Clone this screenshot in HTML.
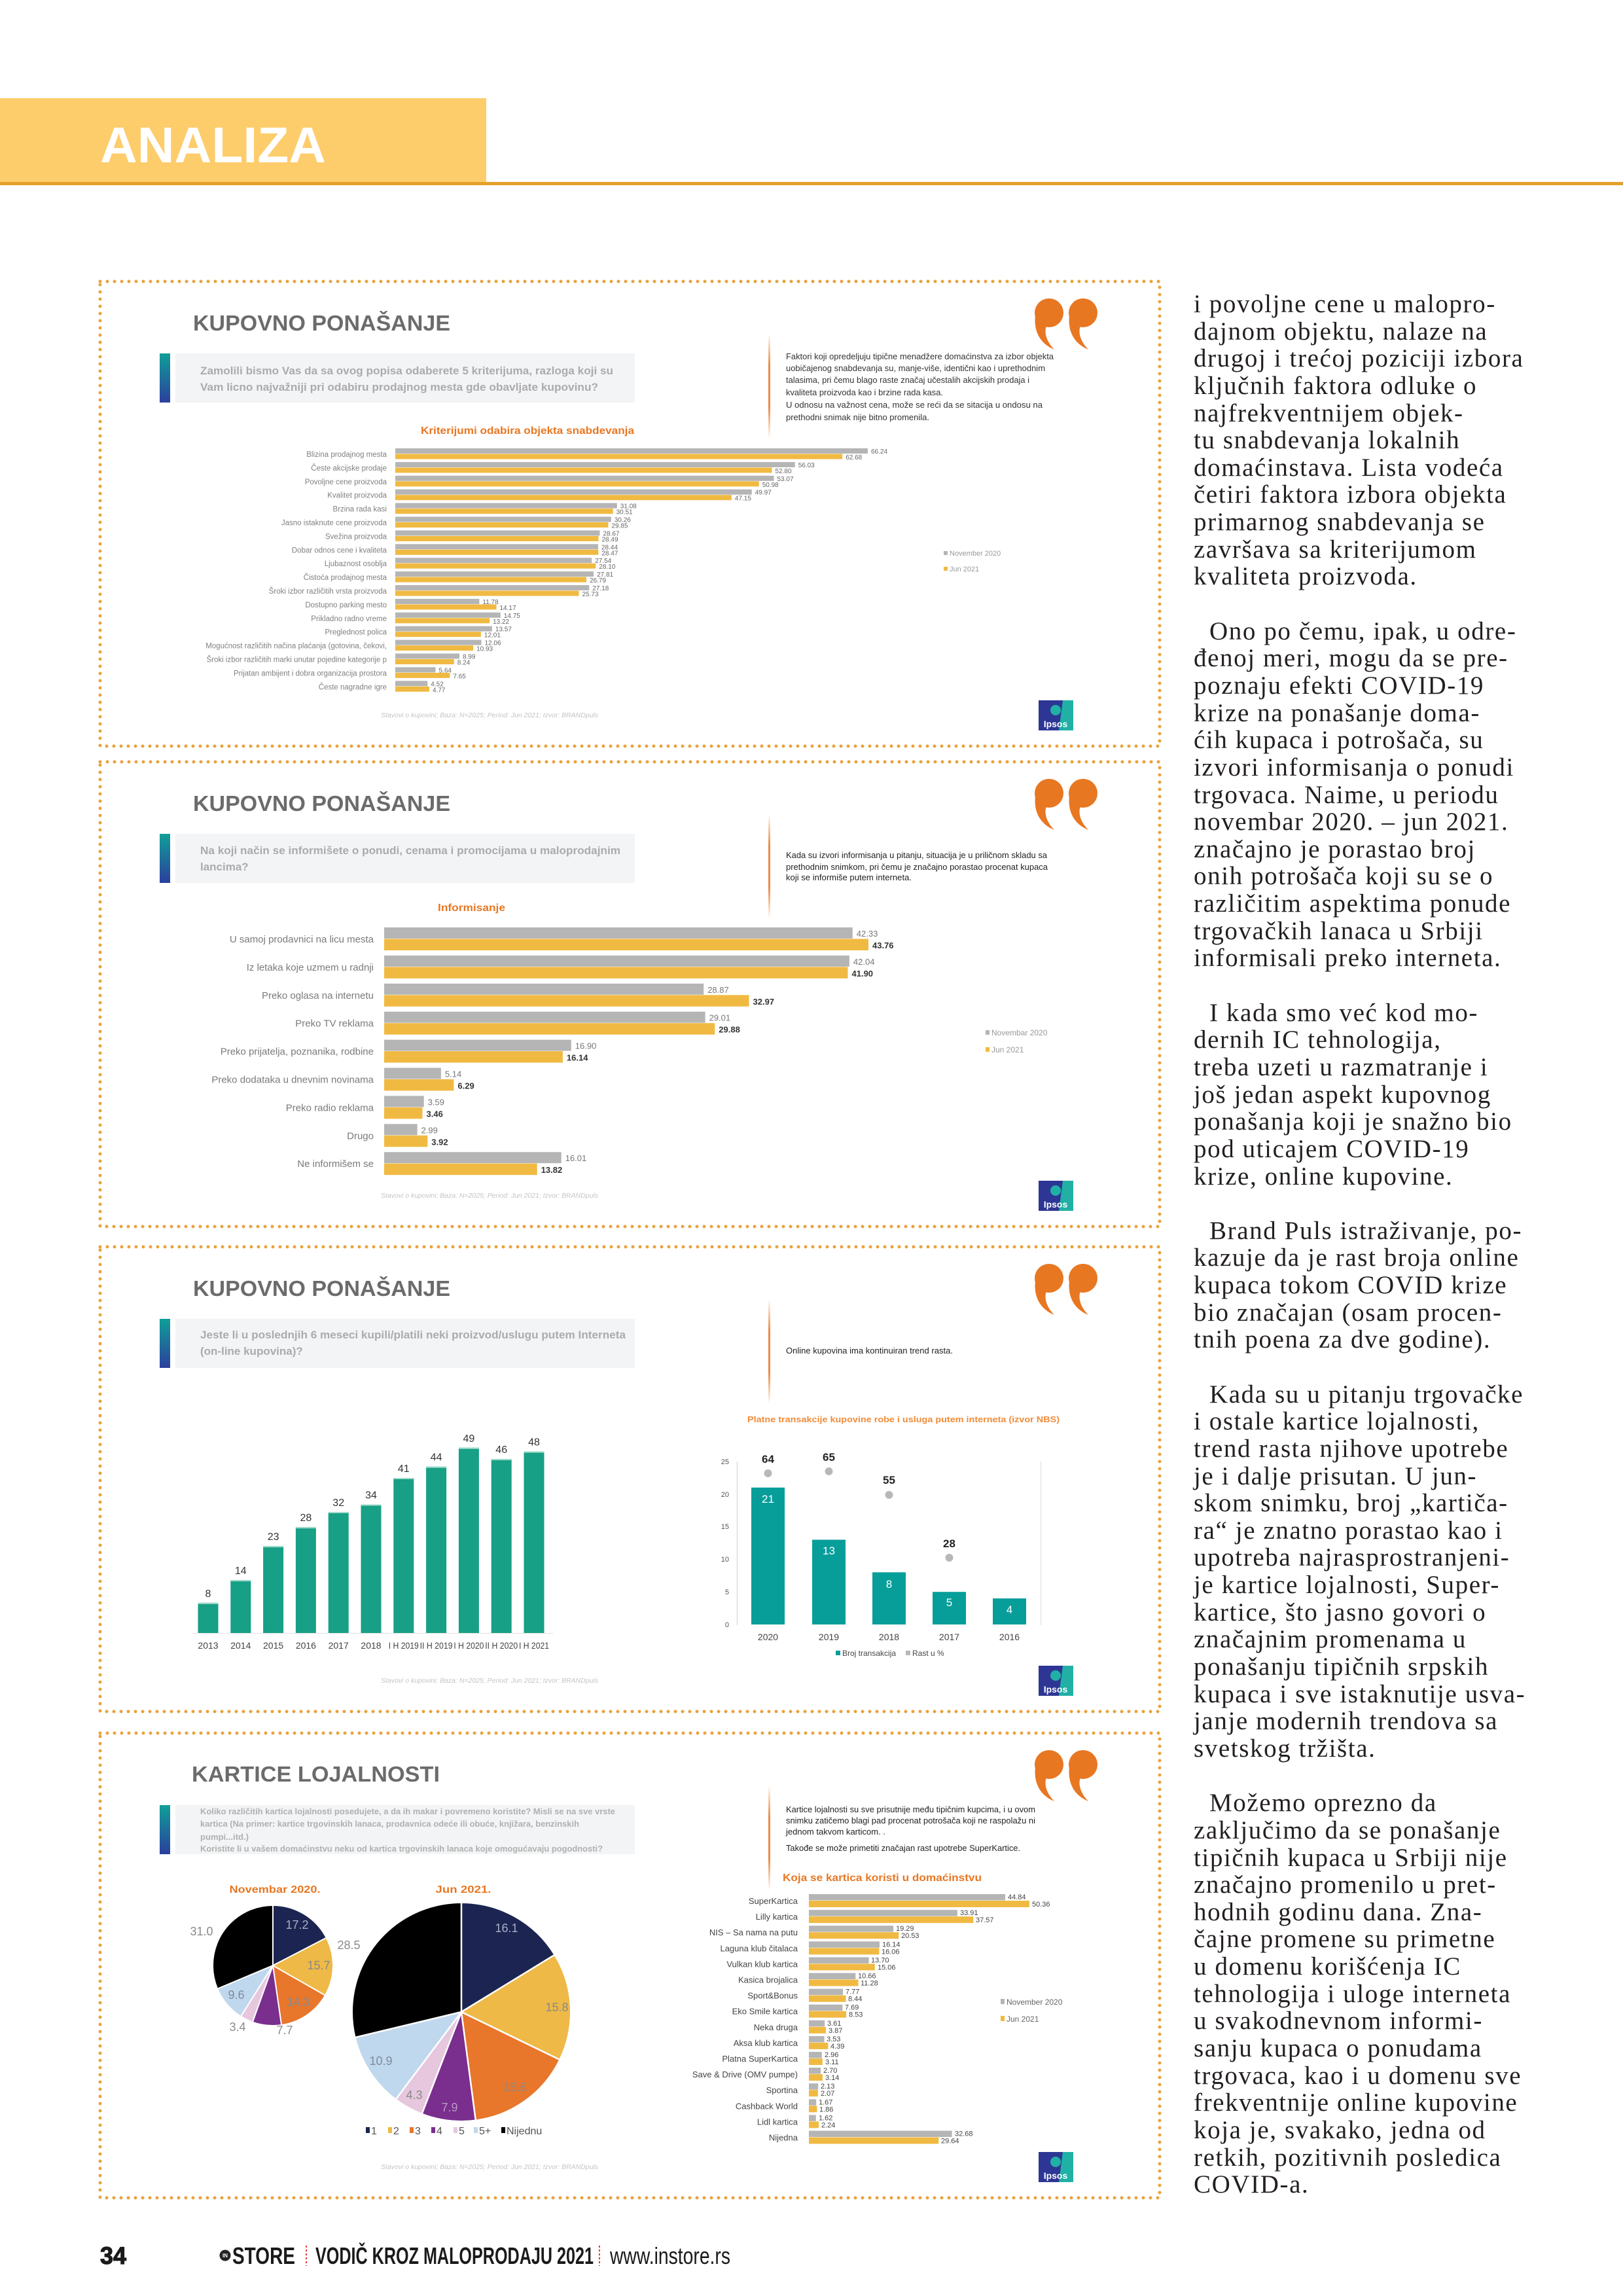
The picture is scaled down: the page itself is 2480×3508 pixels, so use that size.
<!DOCTYPE html>
<html><head><meta charset="utf-8">
<style>
html,body{margin:0;padding:0;background:#fff;}
body{width:2480px;height:3508px;overflow:hidden;position:relative;}
svg{position:absolute;left:0;top:0;}
svg text{font-family:"Liberation Sans",sans-serif;}
#col{position:absolute;left:1824px;top:444px;font-family:"Liberation Serif",serif;font-size:39px;line-height:41.65px;letter-spacing:1.6px;color:#231f20;white-space:nowrap;}
#col div{height:41.65px;}
#col .i{padding-left:24px;}
</style></head><body>
<svg width="2480" height="3508" viewBox="0 0 2480 3508" xmlns="http://www.w3.org/2000/svg">
<defs>
<linearGradient id="qbar" x1="0" y1="0" x2="0" y2="1"><stop offset="0" stop-color="#0f9f98"/><stop offset="1" stop-color="#2b3f9e"/></linearGradient>
<linearGradient id="oline" x1="0" y1="0" x2="0" y2="1"><stop offset="0" stop-color="#E87722" stop-opacity="0"/><stop offset="0.3" stop-color="#E87722" stop-opacity="0.85"/><stop offset="0.7" stop-color="#E87722" stop-opacity="0.85"/><stop offset="1" stop-color="#E87722" stop-opacity="0"/></linearGradient>
<g id="common">
<rect x="153" y="0" width="1619" height="710" fill="none" stroke="#E9A23B" stroke-width="5" stroke-dasharray="0 11" stroke-linecap="round"/>
<rect x="268" y="110" width="702" height="75" fill="#f3f4f6"/>
<rect x="244" y="110" width="16" height="75" fill="url(#qbar)"/>
<rect x="1174" y="80" width="3" height="160" fill="url(#oline)"/>
<circle cx="1603" cy="48" r="22" fill="#E87722"/>
<circle cx="1655" cy="48" r="22" fill="#E87722"/>
<path d="M1582,52 C1579,78 1591,96 1611,104 C1599,92 1595,78 1599,68 Z" fill="#E87722"/>
<path d="M1634,52 C1631,78 1643,96 1663,104 C1651,92 1647,78 1651,68 Z" fill="#E87722"/>
<rect x="1587" y="640" width="53" height="46" fill="#2d3694"/>
<path d="M1624,640 L1640,640 L1640,686 L1618,686 Z" fill="#21b0a5"/>
<circle cx="1613" cy="655" r="8" fill="#21b0a5"/>
<text x="1613" y="681" font-size="14" fill="#fff" text-anchor="middle" font-weight="bold">Ipsos</text>
<text x="748" y="666" font-size="10" font-style="italic" fill="#c4c4c4" text-anchor="middle" textLength="332" lengthAdjust="spacingAndGlyphs">Stavovi o kupovini; Baza: N=2025; Period: Jun 2021; Izvor: BRANDpuls</text>
</g>
</defs>

<!-- HEADER -->
<rect x="0" y="150" width="743" height="129" fill="#FDCC6B"/>
<rect x="0" y="278" width="2480" height="5" fill="#E5A02B"/>
<text x="153" y="248" font-size="77" font-weight="bold" fill="#fff" textLength="345" lengthAdjust="spacingAndGlyphs">ANALIZA</text>

<!-- PANEL 1 -->
<g transform="translate(0,430)">
<use href="#common"/>
<text x="295" y="75" font-size="33" font-weight="bold" fill="#6b6b6b" textLength="393" lengthAdjust="spacingAndGlyphs">KUPOVNO PONAŠANJE</text>
<g font-size="17" font-weight="bold" fill="#ababab">
<text x="306" y="142" textLength="631" lengthAdjust="spacingAndGlyphs">Zamolili bismo Vas da sa ovog popisa odaberete 5 kriterijuma, razloga koji su</text>
<text x="306" y="167" textLength="608" lengthAdjust="spacingAndGlyphs">Vam licno najvažniji pri odabiru prodajnog mesta gde obavljate kupovinu?</text>
</g>
<g font-size="13" fill="#333">
<text x="1201" y="119" textLength="409" lengthAdjust="spacingAndGlyphs">Faktori koji opredeljuju tipične menadžere domaćinstva za izbor objekta</text>
<text x="1201" y="137" textLength="396" lengthAdjust="spacingAndGlyphs">uobičajenog snabdevanja su, manje-više, identični kao i uprethodnim</text>
<text x="1201" y="155" textLength="372" lengthAdjust="spacingAndGlyphs">talasima, pri čemu blago raste značaj učestalih akcijskih prodaja i</text>
<text x="1201" y="174" textLength="240" lengthAdjust="spacingAndGlyphs">kvaliteta proizvoda kao i brzine rada kasa.</text>
<text x="1201" y="193" textLength="392" lengthAdjust="spacingAndGlyphs">U odnosu na važnost cena, može se reći da se sitacija u ondosu na</text>
<text x="1201" y="212" textLength="219" lengthAdjust="spacingAndGlyphs">prethodni snimak nije bitno promenila.</text>
</g>
<text x="643" y="233" font-size="16" font-weight="bold" fill="#E87722" textLength="326" lengthAdjust="spacingAndGlyphs">Kriterijumi odabira objekta snabdevanja</text>
<g fill="#b5b5b5">
<rect x="604" y="255" width="722.0" height="8"/>
<rect x="604" y="275.9" width="610.7" height="8"/>
<rect x="604" y="296.8" width="578.5" height="8"/>
<rect x="604" y="317.7" width="544.7" height="8"/>
<rect x="604" y="338.6" width="338.8" height="8"/>
<rect x="604" y="359.5" width="329.8" height="8"/>
<rect x="604" y="380.4" width="312.5" height="8"/>
<rect x="604" y="401.3" width="310.0" height="8"/>
<rect x="604" y="422.2" width="300.2" height="8"/>
<rect x="604" y="443.1" width="303.1" height="8"/>
<rect x="604" y="464" width="296.3" height="8"/>
<rect x="604" y="484.9" width="128.4" height="8"/>
<rect x="604" y="505.8" width="160.8" height="8"/>
<rect x="604" y="526.7" width="147.9" height="8"/>
<rect x="604" y="547.6" width="131.5" height="8"/>
<rect x="604" y="568.5" width="98.0" height="8"/>
<rect x="604" y="589.4" width="61.5" height="8"/>
<rect x="604" y="610.3" width="49.3" height="8"/>
</g>
<g fill="#F0BA42">
<rect x="604" y="263.5" width="683.2" height="8"/>
<rect x="604" y="284.4" width="575.5" height="8"/>
<rect x="604" y="305.3" width="555.7" height="8"/>
<rect x="604" y="326.2" width="513.9" height="8"/>
<rect x="604" y="347.1" width="332.6" height="8"/>
<rect x="604" y="368" width="325.4" height="8"/>
<rect x="604" y="388.9" width="310.5" height="8"/>
<rect x="604" y="409.8" width="310.3" height="8"/>
<rect x="604" y="430.7" width="306.3" height="8"/>
<rect x="604" y="451.6" width="292.0" height="8"/>
<rect x="604" y="472.5" width="280.5" height="8"/>
<rect x="604" y="493.4" width="154.5" height="8"/>
<rect x="604" y="514.3" width="144.1" height="8"/>
<rect x="604" y="535.2" width="130.9" height="8"/>
<rect x="604" y="556.1" width="119.1" height="8"/>
<rect x="604" y="577" width="89.8" height="8"/>
<rect x="604" y="597.9" width="83.4" height="8"/>
<rect x="604" y="618.8" width="52.0" height="8"/>
</g>
<g font-size="11.5" fill="#808080" text-anchor="end">
<text x="591" y="268">Blizina prodajnog mesta</text>
<text x="591" y="288.9">Česte akcijske prodaje</text>
<text x="591" y="309.8">Povoljne cene proizvoda</text>
<text x="591" y="330.7">Kvalitet proizvoda</text>
<text x="591" y="351.6">Brzina rada kasi</text>
<text x="591" y="372.5">Jasno istaknute cene proizvoda</text>
<text x="591" y="393.4">Svežina proizvoda</text>
<text x="591" y="414.3">Dobar odnos cene i kvaliteta</text>
<text x="591" y="435.2">Ljubaznost osoblja</text>
<text x="591" y="456.1">Čistoća prodajnog mesta</text>
<text x="591" y="477">Šroki izbor različitih vrsta proizvoda</text>
<text x="591" y="497.9">Dostupno parking mesto</text>
<text x="591" y="518.8">Prikladno radno vreme</text>
<text x="591" y="539.7">Preglednost polica</text>
<text x="591" y="560.6">Mogućnost različitih načina plaćanja (gotovina, čekovi,</text>
<text x="591" y="581.5">Šroki izbor različitih marki unutar pojedine kategorije p</text>
<text x="591" y="602.4">Prijatan ambijent i dobra organizacija prostora</text>
<text x="591" y="623.3">Česte nagradne igre</text>
</g>
<g font-size="10" fill="#666">
<text x="1331" y="263">66.24</text><text x="1292.2" y="272">62.68</text>
<text x="1219.7" y="283.9">56.03</text><text x="1184.5" y="292.9">52.80</text>
<text x="1187.5" y="304.8">53.07</text><text x="1164.7" y="313.8">50.98</text>
<text x="1153.7" y="325.7">49.97</text><text x="1122.9" y="334.7">47.15</text>
<text x="947.8" y="346.6">31.08</text><text x="941.6" y="355.6">30.51</text>
<text x="938.8" y="367.5">30.26</text><text x="934.4" y="376.5">29.85</text>
<text x="921.5" y="388.4">28.67</text><text x="919.5" y="397.4">28.49</text>
<text x="919" y="409.3">28.44</text><text x="919.3" y="418.3">28.47</text>
<text x="909.2" y="430.2">27.54</text><text x="915.3" y="439.2">28.10</text>
<text x="912.1" y="451.1">27.81</text><text x="901" y="460.1">26.79</text>
<text x="905.3" y="472">27.18</text><text x="889.5" y="481">25.73</text>
<text x="737.4" y="492.9">11.78</text><text x="763.5" y="501.9">14.17</text>
<text x="769.8" y="513.8">14.75</text><text x="753.1" y="522.8">13.22</text>
<text x="756.9" y="534.7">13.57</text><text x="739.9" y="543.7">12.01</text>
<text x="740.5" y="555.6">12.06</text><text x="728.1" y="564.6">10.93</text>
<text x="707" y="576.5">8.99</text><text x="698.8" y="585.5">8.24</text>
<text x="670.5" y="597.4">5.64</text><text x="692.4" y="606.4">7.65</text>
<text x="658.3" y="618.3">4.52</text><text x="661" y="627.3">4.77</text>
</g>
<rect x="1442" y="412" width="6" height="6" fill="#b5b5b5"/>
<text x="1451" y="419" font-size="11" fill="#999">November 2020</text>
<rect x="1442" y="436" width="6" height="6" fill="#F0BA42"/>
<text x="1451" y="443" font-size="11" fill="#999">Jun 2021</text>
</g>

<!-- PANEL 2 -->
<g transform="translate(0,1164)">
<use href="#common"/>
<text x="295" y="75" font-size="33" font-weight="bold" fill="#6b6b6b" textLength="393" lengthAdjust="spacingAndGlyphs">KUPOVNO PONAŠANJE</text>
<g font-size="17" font-weight="bold" fill="#ababab">
<text x="306" y="141" textLength="642" lengthAdjust="spacingAndGlyphs">Na koji način se informišete o ponudi, cenama i promocijama u maloprodajnim</text>
<text x="306" y="166">lancima?</text>
</g>
<g font-size="13" fill="#222">
<text x="1201" y="147" textLength="399" lengthAdjust="spacingAndGlyphs">Kada su izvori informisanja u pitanju, situacija je u priličnom skladu sa</text>
<text x="1201" y="165" textLength="400" lengthAdjust="spacingAndGlyphs">prethodnim snimkom, pri čemu je značajno porastao procenat kupaca</text>
<text x="1201" y="181" textLength="192" lengthAdjust="spacingAndGlyphs">koji se informiše putem interneta.</text>
</g>
<text x="669" y="228" font-size="16" font-weight="bold" fill="#E87722" textLength="103" lengthAdjust="spacingAndGlyphs">Informisanje</text>
<g fill="#b5b5b5">
<rect x="587" y="253" width="715.8" height="17"/>
<rect x="587" y="295.9" width="710.9" height="17"/>
<rect x="587" y="338.8" width="488.2" height="17"/>
<rect x="587" y="381.7" width="490.6" height="17"/>
<rect x="587" y="424.6" width="285.8" height="17"/>
<rect x="587" y="467.5" width="86.9" height="17"/>
<rect x="587" y="510.4" width="60.7" height="17"/>
<rect x="587" y="553.3" width="50.6" height="17"/>
<rect x="587" y="596.2" width="270.7" height="17"/>
</g>
<g fill="#F0BA42">
<rect x="587" y="270.5" width="740.0" height="17.5"/>
<rect x="587" y="313.4" width="708.5" height="17.5"/>
<rect x="587" y="356.3" width="557.5" height="17.5"/>
<rect x="587" y="399.2" width="505.3" height="17.5"/>
<rect x="587" y="442.1" width="272.9" height="17.5"/>
<rect x="587" y="485" width="106.4" height="17.5"/>
<rect x="587" y="527.9" width="58.5" height="17.5"/>
<rect x="587" y="570.8" width="66.3" height="17.5"/>
<rect x="587" y="613.7" width="233.7" height="17.5"/>
</g>
<g font-size="15" fill="#7a7a7a" text-anchor="end">
<text x="571" y="276">U samoj prodavnici na licu mesta</text>
<text x="571" y="318.9">Iz letaka koje uzmem u radnji</text>
<text x="571" y="361.8">Preko oglasa na internetu</text>
<text x="571" y="404.7">Preko TV reklama</text>
<text x="571" y="447.6">Preko prijatelja, poznanika, rodbine</text>
<text x="571" y="490.5">Preko dodataka u dnevnim novinama</text>
<text x="571" y="533.4">Preko radio reklama</text>
<text x="571" y="576.3">Drugo</text>
<text x="571" y="619.2">Ne informišem se</text>
</g>
<g font-size="13" fill="#777">
<text x="1308.8" y="267">42.33</text>
<text x="1303.9" y="309.9">42.04</text>
<text x="1081.2" y="352.8">28.87</text>
<text x="1083.6" y="395.7">29.01</text>
<text x="878.8" y="438.6">16.90</text>
<text x="679.9" y="481.5">5.14</text>
<text x="653.7" y="524.4">3.59</text>
<text x="643.6" y="567.3">2.99</text>
<text x="863.7" y="610.2">16.01</text>
</g>
<g font-size="13" fill="#333" font-weight="bold">
<text x="1333" y="285">43.76</text>
<text x="1301.5" y="327.9">41.90</text>
<text x="1150.5" y="370.8">32.97</text>
<text x="1098.3" y="413.7">29.88</text>
<text x="865.9" y="456.6">16.14</text>
<text x="699.4" y="499.5">6.29</text>
<text x="651.5" y="542.4">3.46</text>
<text x="659.3" y="585.3">3.92</text>
<text x="826.7" y="628.2">13.82</text>
</g>
<rect x="1506" y="410" width="6" height="7" fill="#b5b5b5"/>
<text x="1515" y="418" font-size="12" fill="#999">Novembar 2020</text>
<rect x="1506" y="436" width="6" height="7" fill="#F0BA42"/>
<text x="1515" y="444" font-size="12" fill="#999">Jun 2021</text>
</g>

<!-- PANEL 3 -->
<g transform="translate(0,1905)">
<use href="#common"/>
<text x="295" y="75" font-size="33" font-weight="bold" fill="#6b6b6b" textLength="393" lengthAdjust="spacingAndGlyphs">KUPOVNO PONAŠANJE</text>
<g font-size="17" font-weight="bold" fill="#ababab">
<text x="306" y="140" textLength="650" lengthAdjust="spacingAndGlyphs">Jeste li u poslednjih 6 meseci kupili/platili neki proizvod/uslugu putem Interneta</text>
<text x="306" y="165">(on-line kupovina)?</text>
</g>
<text x="1201" y="163" font-size="13" fill="#222" textLength="255" lengthAdjust="spacingAndGlyphs">Online kupovina ima kontinuiran trend rasta.</text>
<line x1="293" y1="590.5" x2="845" y2="590.5" stroke="#e2e2e2" stroke-width="1"/>
<g fill="#17A085">
<rect x="302.5" y="543.8" width="31" height="46.2"/>
<rect x="352.3" y="509.1" width="31" height="80.9"/>
<rect x="402.1" y="457.1" width="31" height="132.9"/>
<rect x="451.9" y="428.2" width="31" height="161.8"/>
<rect x="501.7" y="405.0" width="31" height="185.0"/>
<rect x="551.5" y="393.5" width="31" height="196.5"/>
<rect x="601.3" y="353.0" width="31" height="237.0"/>
<rect x="651.1" y="335.7" width="31" height="254.3"/>
<rect x="700.9" y="306.8" width="31" height="283.2"/>
<rect x="750.7" y="324.1" width="31" height="265.9"/>
<rect x="800.5" y="312.6" width="31" height="277.4"/>
</g>
<g fill="#a6dccd">
<rect x="302.5" y="543.8" width="31" height="2"/>
<rect x="352.3" y="509.1" width="31" height="2"/>
<rect x="402.1" y="457.1" width="31" height="2"/>
<rect x="451.9" y="428.2" width="31" height="2"/>
<rect x="501.7" y="405.0" width="31" height="2"/>
<rect x="551.5" y="393.5" width="31" height="2"/>
<rect x="601.3" y="353.0" width="31" height="2"/>
<rect x="651.1" y="335.7" width="31" height="2"/>
<rect x="700.9" y="306.8" width="31" height="2"/>
<rect x="750.7" y="324.1" width="31" height="2"/>
<rect x="800.5" y="312.6" width="31" height="2"/>
</g>
<g font-size="16" fill="#333" text-anchor="middle">
<text x="318" y="534.8">8</text>
<text x="367.8" y="500.1">14</text>
<text x="417.6" y="448.1">23</text>
<text x="467.4" y="419.2">28</text>
<text x="517.2" y="396">32</text>
<text x="567" y="384.5">34</text>
<text x="616.8" y="344">41</text>
<text x="666.6" y="326.7">44</text>
<text x="716.4" y="297.8">49</text>
<text x="766.2" y="315.1">46</text>
<text x="816" y="303.6">48</text>
</g>
<g font-size="14" fill="#444" text-anchor="middle">
<text x="318" y="614">2013</text>
<text x="367.8" y="614">2014</text>
<text x="417.6" y="614">2015</text>
<text x="467.4" y="614">2016</text>
<text x="517.2" y="614">2017</text>
<text x="567" y="614">2018</text>
<text x="616.8" y="614" textLength="46" lengthAdjust="spacingAndGlyphs">I H 2019</text>
<text x="666.6" y="614" textLength="50" lengthAdjust="spacingAndGlyphs">II H 2019</text>
<text x="716.4" y="614" textLength="46" lengthAdjust="spacingAndGlyphs">I H 2020</text>
<text x="766.2" y="614" textLength="50" lengthAdjust="spacingAndGlyphs">II H 2020</text>
<text x="816" y="614" textLength="46" lengthAdjust="spacingAndGlyphs">I H 2021</text>
</g>
<text x="1142" y="268" font-size="13" font-weight="bold" fill="#F08C3A" textLength="477" lengthAdjust="spacingAndGlyphs">Platne transakcije kupovine robe i usluga putem interneta (izvor NBS)</text>
<line x1="1126.5" y1="328" x2="1126.5" y2="578" stroke="#dcdcdc" stroke-width="1.5"/>
<line x1="1590.5" y1="328" x2="1590.5" y2="578" stroke="#e6e6e6" stroke-width="1.5"/>
<g font-size="11" fill="#555" text-anchor="end">
<text x="1114" y="581">0</text>
<text x="1114" y="531">5</text>
<text x="1114" y="481">10</text>
<text x="1114" y="431">15</text>
<text x="1114" y="382">20</text>
<text x="1114" y="332">25</text>
</g>
<g fill="#079E9A">
<rect x="1148" y="367.8" width="51" height="209.2"/>
<rect x="1241" y="447.5" width="51" height="129.5"/>
<rect x="1333" y="497.3" width="51" height="79.7"/>
<rect x="1425" y="527.2" width="51" height="49.8"/>
<rect x="1517" y="537.2" width="51" height="39.8"/>
</g>
<g font-size="17" fill="#fff" text-anchor="middle">
<text x="1173.5" y="391">21</text>
<text x="1266.5" y="470">13</text>
<text x="1358.5" y="521">8</text>
<text x="1450.5" y="549">5</text>
<text x="1542.5" y="560">4</text>
</g>
<g fill="#b8b8b8">
<circle cx="1173.5" cy="346" r="6"/>
<circle cx="1266.5" cy="343" r="6"/>
<circle cx="1358.5" cy="379" r="6"/>
<circle cx="1450.5" cy="475" r="6"/>
</g>
<g font-size="17" font-weight="bold" fill="#222" text-anchor="middle">
<text x="1173.5" y="330">64</text>
<text x="1266.5" y="327">65</text>
<text x="1358.5" y="362">55</text>
<text x="1450.5" y="459">28</text>
</g>
<g font-size="14" fill="#444" text-anchor="middle">
<text x="1173.5" y="601">2020</text>
<text x="1266.5" y="601">2019</text>
<text x="1358.5" y="601">2018</text>
<text x="1450.5" y="601">2017</text>
<text x="1542.5" y="601">2016</text>
</g>
<rect x="1277" y="617" width="7" height="7" fill="#079E9A"/>
<text x="1287" y="625" font-size="12" fill="#444">Broj transakcija</text>
<rect x="1384" y="617" width="7" height="7" fill="#b8b8b8"/>
<text x="1394" y="625" font-size="12" fill="#444">Rast u %</text>
</g>

<!-- PANEL 4 -->
<g transform="translate(0,2648)">
<use href="#common"/>
<text x="293" y="74" font-size="33" font-weight="bold" fill="#6b6b6b" textLength="379" lengthAdjust="spacingAndGlyphs">KARTICE LOJALNOSTI</text>
<g font-size="13" font-weight="bold" fill="#b0b0b0">
<text x="306" y="124" textLength="634" lengthAdjust="spacingAndGlyphs">Koliko različitih kartica lojalnosti posedujete, a da ih makar i povremeno koristite? Misli se na sve vrste</text>
<text x="306" y="143" textLength="579" lengthAdjust="spacingAndGlyphs">kartica (Na primer: kartice trgovinskih lanaca, prodavnica odeće ili obuće, knjižara, benzinskih</text>
<text x="306" y="163" textLength="74" lengthAdjust="spacingAndGlyphs">pumpi...itd.)</text>
<text x="306" y="181" textLength="615" lengthAdjust="spacingAndGlyphs">Koristite li u vašem domaćinstvu neku od kartica trgovinskih lanaca koje omogućavaju pogodnosti?</text>
</g>
<g font-size="13" fill="#222">
<text x="1201" y="121" textLength="381" lengthAdjust="spacingAndGlyphs">Kartice lojalnosti su sve prisutnije među tipičnim kupcima, i u ovom</text>
<text x="1201" y="138" textLength="381" lengthAdjust="spacingAndGlyphs">snimku zatičemo blagi pad procenat potrošača koji ne raspolažu ni</text>
<text x="1201" y="155" textLength="152" lengthAdjust="spacingAndGlyphs">jednom takvom karticom. .</text>
<text x="1201" y="180" textLength="358" lengthAdjust="spacingAndGlyphs">Takođe se može primetiti značajan rast upotrebe SuperKartice.</text>
</g>
<text x="1196" y="226" font-size="16" font-weight="bold" fill="#E87722" textLength="304" lengthAdjust="spacingAndGlyphs">Koja se kartica koristi u domaćinstvu</text>
<text x="420" y="244" font-size="16" font-weight="bold" fill="#E87722" text-anchor="middle" textLength="139" lengthAdjust="spacingAndGlyphs">Novembar 2020.</text>
<text x="708" y="244" font-size="16" font-weight="bold" fill="#E87722" text-anchor="middle" textLength="85" lengthAdjust="spacingAndGlyphs">Jun 2021.</text>
<g fill="none" stroke-width="91" transform="rotate(-90 417 355)">
<circle cx="417" cy="355" r="45.5" stroke="#1C2551" stroke-dasharray="49.72 1000" stroke-dashoffset="0"/>
<circle cx="417" cy="355" r="45.5" stroke="#EEB946" stroke-dasharray="45.37 1000" stroke-dashoffset="-49.72"/>
<circle cx="417" cy="355" r="45.5" stroke="#E8762B" stroke-dasharray="41.34 1000" stroke-dashoffset="-95.09"/>
<circle cx="417" cy="355" r="45.5" stroke="#7A2E8E" stroke-dasharray="22.27 1000" stroke-dashoffset="-136.43"/>
<circle cx="417" cy="355" r="45.5" stroke="#E6C7DE" stroke-dasharray="9.83 1000" stroke-dashoffset="-158.70"/>
<circle cx="417" cy="355" r="45.5" stroke="#C0D8EE" stroke-dasharray="27.76 1000" stroke-dashoffset="-168.53"/>
<circle cx="417" cy="355" r="45.5" stroke="#000000" stroke-dasharray="89.60 1000" stroke-dashoffset="-196.29"/>
</g>
<g stroke="#fff" stroke-width="2">
<line x1="417" y1="355" x2="417" y2="264"/>
<line x1="417" y1="355" x2="497.8" y2="313.1"/>
<line x1="417" y1="355" x2="496.0" y2="400.1"/>
<line x1="417" y1="355" x2="430.0" y2="445.1"/>
<line x1="417" y1="355" x2="386.2" y2="440.6"/>
<line x1="417" y1="355" x2="368.5" y2="432.0"/>
<line x1="417" y1="355" x2="333.1" y2="390.3"/>
</g>
<g fill="none" stroke-width="166" transform="rotate(-90 705 426)">
<circle cx="705" cy="426" r="83" stroke="#1C2551" stroke-dasharray="84.74 2000" stroke-dashoffset="0"/>
<circle cx="705" cy="426" r="83" stroke="#EEB946" stroke-dasharray="83.13 2000" stroke-dashoffset="-84.74"/>
<circle cx="705" cy="426" r="83" stroke="#E8762B" stroke-dasharray="82.09 2000" stroke-dashoffset="-167.87"/>
<circle cx="705" cy="426" r="83" stroke="#7A2E8E" stroke-dasharray="41.56 2000" stroke-dashoffset="-249.96"/>
<circle cx="705" cy="426" r="83" stroke="#E6C7DE" stroke-dasharray="22.63 2000" stroke-dashoffset="-291.52"/>
<circle cx="705" cy="426" r="83" stroke="#C0D8EE" stroke-dasharray="57.37 2000" stroke-dashoffset="-314.15"/>
<circle cx="705" cy="426" r="83" stroke="#000000" stroke-dasharray="149.98 2000" stroke-dashoffset="-371.52"/>
</g>
<g stroke="#fff" stroke-width="2.5">
<line x1="705" y1="426" x2="705" y2="260"/>
<line x1="705" y1="426" x2="846.5" y2="339.3"/>
<line x1="705" y1="426" x2="854.3" y2="498.5"/>
<line x1="705" y1="426" x2="726.7" y2="590.6"/>
<line x1="705" y1="426" x2="645.0" y2="580.8"/>
<line x1="705" y1="426" x2="605.3" y2="558.8"/>
<line x1="705" y1="426" x2="543.6" y2="464.7"/>
</g>
<g font-size="18" text-anchor="middle" fill="#8a8a8a">
<text x="454" y="299" fill="#a9afc6">17.2</text>
<text x="487" y="361">15.7</text>
<text x="456" y="417">14.3</text>
<text x="435" y="460">7.7</text>
<text x="363" y="455">3.4</text>
<text x="361" y="406" fill="#7f8c9a">9.6</text>
<text x="308" y="309">31.0</text>
<text x="774" y="304" fill="#a9afc6">16.1</text>
<text x="851" y="425">15.8</text>
<text x="787" y="547">15.6</text>
<text x="687" y="578" fill="#b89cc2">7.9</text>
<text x="633" y="559">4.3</text>
<text x="582" y="507" fill="#7f8c9a">10.9</text>
<text x="533" y="330">28.5</text>
</g>
<g font-size="16" fill="#555">
<rect x="559" y="602" width="6" height="9" fill="#1C2551"/><text x="567" y="613">1</text>
<rect x="593" y="602" width="6" height="9" fill="#EEB946"/><text x="601" y="613">2</text>
<rect x="626" y="602" width="6" height="9" fill="#E8762B"/><text x="634" y="613">3</text>
<rect x="659" y="602" width="6" height="9" fill="#7A2E8E"/><text x="667" y="613">4</text>
<rect x="693" y="602" width="6" height="9" fill="#E6C7DE"/><text x="701" y="613">5</text>
<rect x="724" y="602" width="6" height="9" fill="#C0D8EE"/><text x="732" y="613">5+</text>
<rect x="766" y="602" width="6" height="9" fill="#000"/><text x="774" y="613">Nijednu</text>
</g>
<g fill="#b5b5b5">
<rect x="1236" y="246" width="300.0" height="9.5"/>
<rect x="1236" y="270.1" width="226.9" height="9.5"/>
<rect x="1236" y="294.2" width="129.0" height="9.5"/>
<rect x="1236" y="318.3" width="108.0" height="9.5"/>
<rect x="1236" y="342.4" width="91.7" height="9.5"/>
<rect x="1236" y="366.5" width="71.3" height="9.5"/>
<rect x="1236" y="390.6" width="52.0" height="9.5"/>
<rect x="1236" y="414.7" width="51.4" height="9.5"/>
<rect x="1236" y="438.8" width="24.2" height="9.5"/>
<rect x="1236" y="462.9" width="23.6" height="9.5"/>
<rect x="1236" y="487" width="19.8" height="9.5"/>
<rect x="1236" y="511.1" width="18.1" height="9.5"/>
<rect x="1236" y="535.2" width="14.2" height="9.5"/>
<rect x="1236" y="559.3" width="11.2" height="9.5"/>
<rect x="1236" y="583.4" width="10.8" height="9.5"/>
<rect x="1236" y="607.5" width="218.6" height="9.5"/>
</g>
<g fill="#F0BA42">
<rect x="1236" y="256" width="336.9" height="10"/>
<rect x="1236" y="280.1" width="251.3" height="10"/>
<rect x="1236" y="304.2" width="137.3" height="10"/>
<rect x="1236" y="328.3" width="107.4" height="10"/>
<rect x="1236" y="352.4" width="100.8" height="10"/>
<rect x="1236" y="376.5" width="75.5" height="10"/>
<rect x="1236" y="400.6" width="56.5" height="10"/>
<rect x="1236" y="424.7" width="57.1" height="10"/>
<rect x="1236" y="448.8" width="25.9" height="10"/>
<rect x="1236" y="472.9" width="29.4" height="10"/>
<rect x="1236" y="497" width="20.8" height="10"/>
<rect x="1236" y="521.1" width="21.0" height="10"/>
<rect x="1236" y="545.2" width="13.8" height="10"/>
<rect x="1236" y="569.3" width="12.4" height="10"/>
<rect x="1236" y="593.4" width="15.0" height="10"/>
<rect x="1236" y="617.5" width="198.3" height="10"/>
</g>
<g font-size="13" fill="#444" text-anchor="end">
<text x="1219" y="261">SuperKartica</text>
<text x="1219" y="285.1">Lilly kartica</text>
<text x="1219" y="309.2">NIS – Sa nama na putu</text>
<text x="1219" y="333.3">Laguna klub čitalaca</text>
<text x="1219" y="357.4">Vulkan klub kartica</text>
<text x="1219" y="381.5">Kasica brojalica</text>
<text x="1219" y="405.6">Sport&amp;Bonus</text>
<text x="1219" y="429.7">Eko Smile kartica</text>
<text x="1219" y="453.8">Neka druga</text>
<text x="1219" y="477.9">Aksa klub kartica</text>
<text x="1219" y="502">Platna SuperKartica</text>
<text x="1219" y="526.1">Save &amp; Drive (OMV pumpe)</text>
<text x="1219" y="550.2">Sportina</text>
<text x="1219" y="574.3">Cashback World</text>
<text x="1219" y="598.4">Lidl kartica</text>
<text x="1219" y="622.5">Nijedna</text>
</g>
<g font-size="11" fill="#444">
<text x="1540" y="254">44.84</text><text x="1577" y="265">50.36</text>
<text x="1467" y="278.1">33.91</text><text x="1491" y="289.1">37.57</text>
<text x="1369" y="302.2">19.29</text><text x="1377" y="313.2">20.53</text>
<text x="1348" y="326.3">16.14</text><text x="1347" y="337.3">16.06</text>
<text x="1331" y="350.4">13.70</text><text x="1341" y="361.4">15.06</text>
<text x="1311" y="374.5">10.66</text><text x="1315" y="385.5">11.28</text>
<text x="1292" y="398.6">7.77</text><text x="1296" y="409.6">8.44</text>
<text x="1291" y="422.7">7.69</text><text x="1297" y="433.7">8.53</text>
<text x="1264" y="446.8">3.61</text><text x="1266" y="457.8">3.87</text>
<text x="1263" y="470.9">3.53</text><text x="1269" y="481.9">4.39</text>
<text x="1260" y="495">2.96</text><text x="1261" y="506">3.11</text>
<text x="1258" y="519.1">2.70</text><text x="1261" y="530.1">3.14</text>
<text x="1254" y="543.2">2.13</text><text x="1254" y="554.2">2.07</text>
<text x="1251" y="567.3">1.67</text><text x="1252" y="578.3">1.86</text>
<text x="1251" y="591.4">1.62</text><text x="1255" y="602.4">2.24</text>
<text x="1459" y="615.5">32.68</text><text x="1438" y="626.5">29.64</text>
</g>
<rect x="1529" y="406" width="6" height="8" fill="#b5b5b5"/>
<text x="1538" y="415" font-size="12" fill="#666">November 2020</text>
<rect x="1529" y="432" width="6" height="8" fill="#F0BA42"/>
<text x="1538" y="441" font-size="12" fill="#666">Jun 2021</text>
</g>

<!-- FOOTER -->
<text x="153" y="3459" font-size="37" font-weight="bold" fill="#1a1a1a" stroke="#1a1a1a" stroke-width="1.2" textLength="40" lengthAdjust="spacingAndGlyphs">34</text>
<circle cx="344" cy="3446" r="8.5" fill="#222"/>
<text x="344" y="3449" font-size="8" font-weight="bold" fill="#fff" text-anchor="middle">IN</text>
<text x="355" y="3459" font-size="36" font-weight="bold" fill="#1a1a1a" textLength="96" lengthAdjust="spacingAndGlyphs">STORE</text>
<line x1="468" y1="3431" x2="468" y2="3462" stroke="#e33b2e" stroke-width="2" stroke-dasharray="3 3"/>
<text x="482" y="3459" font-size="36" font-weight="bold" fill="#1a1a1a" textLength="425" lengthAdjust="spacingAndGlyphs">VODIČ KROZ MALOPRODAJU 2021</text>
<line x1="916" y1="3431" x2="916" y2="3462" stroke="#e33b2e" stroke-width="2" stroke-dasharray="3 3"/>
<text x="932" y="3459" font-size="36" fill="#1a1a1a" textLength="184" lengthAdjust="spacingAndGlyphs">www.instore.rs</text>
</svg>

<div id="col">
<div>i povoljne cene u malopro-</div>
<div>dajnom objektu, nalaze na</div>
<div>drugoj i trećoj poziciji izbora</div>
<div>ključnih faktora odluke o</div>
<div>najfrekventnijem objek-</div>
<div>tu snabdevanja lokalnih</div>
<div>domaćinstava. Lista vodeća</div>
<div>četiri faktora izbora objekta</div>
<div>primarnog snabdevanja se</div>
<div>završava sa kriterijumom</div>
<div>kvaliteta proizvoda.</div>
<div>&nbsp;</div>
<div class="i">Ono po čemu, ipak, u odre-</div>
<div>đenoj meri, mogu da se pre-</div>
<div>poznaju efekti COVID-19</div>
<div>krize na ponašanje doma-</div>
<div>ćih kupaca i potrošača, su</div>
<div>izvori informisanja o ponudi</div>
<div>trgovaca. Naime, u periodu</div>
<div>novembar 2020. – jun 2021.</div>
<div>značajno je porastao broj</div>
<div>onih potrošača koji su se o</div>
<div>različitim aspektima ponude</div>
<div>trgovačkih lanaca u Srbiji</div>
<div>informisali preko interneta.</div>
<div>&nbsp;</div>
<div class="i">I kada smo već kod mo-</div>
<div>dernih IC tehnologija,</div>
<div>treba uzeti u razmatranje i</div>
<div>još jedan aspekt kupovnog</div>
<div>ponašanja koji je snažno bio</div>
<div>pod uticajem COVID-19</div>
<div>krize, online kupovine.</div>
<div>&nbsp;</div>
<div class="i">Brand Puls istraživanje, po-</div>
<div>kazuje da je rast broja online</div>
<div>kupaca tokom COVID krize</div>
<div>bio značajan (osam procen-</div>
<div>tnih poena za dve godine).</div>
<div>&nbsp;</div>
<div class="i">Kada su u pitanju trgovačke</div>
<div>i ostale kartice lojalnosti,</div>
<div>trend rasta njihove upotrebe</div>
<div>je i dalje prisutan. U jun-</div>
<div>skom snimku, broj „kartiča-</div>
<div>ra“ je znatno porastao kao i</div>
<div>upotreba najrasprostranjeni-</div>
<div>je kartice lojalnosti, Super-</div>
<div>kartice, što jasno govori o</div>
<div>značajnim promenama u</div>
<div>ponašanju tipičnih srpskih</div>
<div>kupaca i sve istaknutije usva-</div>
<div>janje modernih trendova sa</div>
<div>svetskog tržišta.</div>
<div>&nbsp;</div>
<div class="i">Možemo oprezno da</div>
<div>zaključimo da se ponašanje</div>
<div>tipičnih kupaca u Srbiji nije</div>
<div>značajno promenilo u pret-</div>
<div>hodnih godinu dana. Zna-</div>
<div>čajne promene su primetne</div>
<div>u domenu korišćenja IC</div>
<div>tehnologija i uloge interneta</div>
<div>u svakodnevnom informi-</div>
<div>sanju kupaca o ponudama</div>
<div>trgovaca, kao i u domenu sve</div>
<div>frekventnije online kupovine</div>
<div>koja je, svakako, jedna od</div>
<div>retkih, pozitivnih posledica</div>
<div>COVID-a.</div>
</div>
</body></html>
